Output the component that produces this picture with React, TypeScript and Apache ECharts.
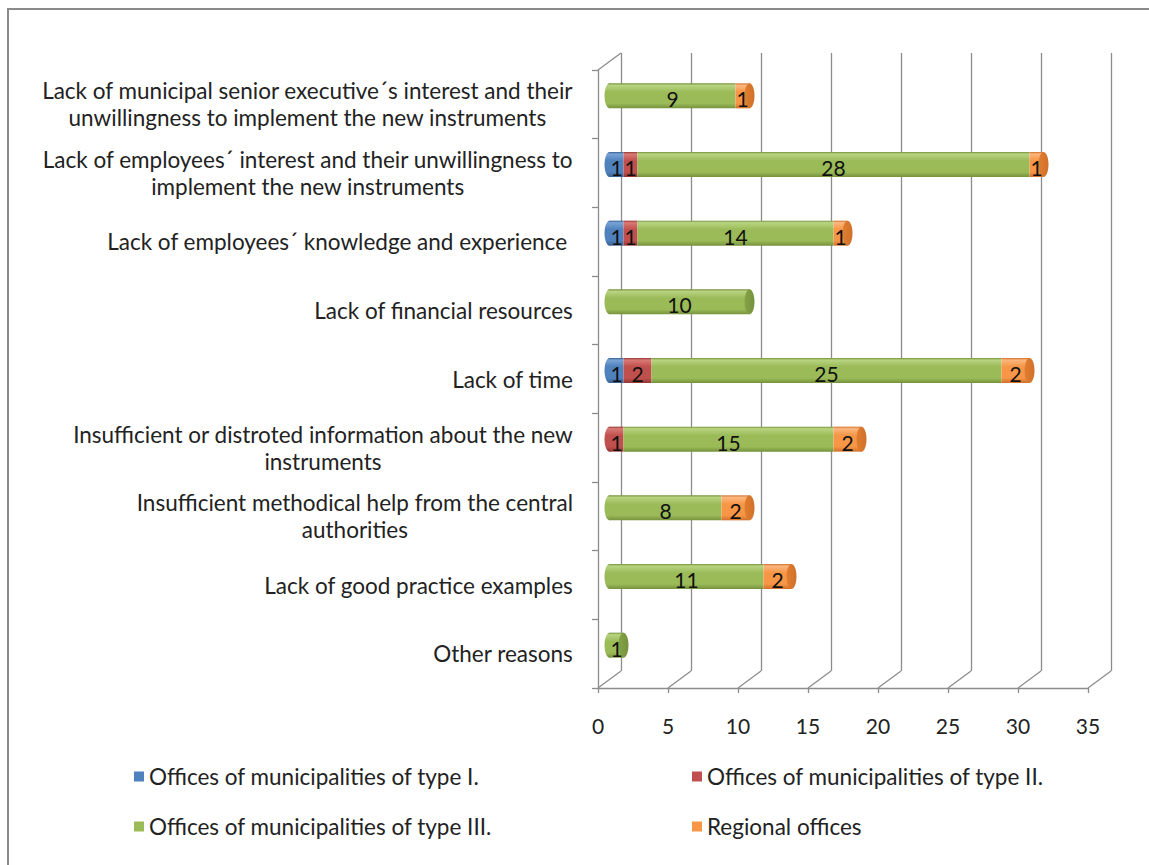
import React, { useEffect, useRef } from "react";
import * as echarts from "echarts";

const categories = [
  "Lack of municipal senior executive´s interest and their\nunwillingness to implement the new instruments",
  "Lack of employees´ interest and their unwillingness to\nimplement the new instruments",
  "Lack of employees´ knowledge and experience ",
  "Lack of financial resources",
  "Lack of time",
  "Insufficient or distroted information about the new\ninstruments",
  "Insufficient methodical help from the central\nauthorities",
  "Lack of good practice examples",
  "Other reasons",
];

const seriesNames = [
  "Offices of municipalities of type I.",
  "Offices of municipalities of type II.",
  "Offices of municipalities of type III.",
  "Regional offices",
];

const type1 = [0, 1, 1, 0, 1, 0, 0, 0, 0];
const type2 = [0, 1, 1, 0, 2, 1, 0, 0, 0];
const type3 = [9, 28, 14, 10, 25, 15, 8, 11, 1];
const regional = [1, 1, 1, 0, 2, 2, 2, 2, 0];

const xTicks = [0, 5, 10, 15, 20, 25, 30, 35];

const palette = [
  { base: "#4F81BD", light: "#7aa3d6", dark: "#365f91", cap: "#3d6ba3" },
  { base: "#C0504D", light: "#d97a77", dark: "#943634", cap: "#a8403d" },
  { base: "#9BBB59", light: "#b8d481", dark: "#76923c", cap: "#84a346" },
  { base: "#F79646", light: "#fbb77f", dark: "#d0702a", cap: "#e17f2f" },
];

const FONT = "Lato";
const FRONT = { left: 598, top: 70, width: 490, height: 618 };
const DX = 23;
const DY = -17;
const BAR_H = 25;
const CAP_RX = 5;
const GRID_COLOR = "#8c8c8c";

export default function App() {
  const ref = useRef<HTMLDivElement>(null);

  useEffect(() => {
    if (!ref.current) return;
    const chart = echarts.init(ref.current, null, { renderer: "svg" });

    const allSeries = [type1, type2, type3, regional];
    const totals = categories.map((_, i) =>
      allSeries.reduce((s, arr) => s + arr[i], 0)
    );
    const starts = allSeries.map((arr, si) =>
      categories.map((_, i) => {
        let s = 0;
        for (let k = 0; k < si; k++) s += allSeries[k][i];
        return s;
      })
    );

    const makeRender = (si: number) => (params: any, api: any) => {
      const value = api.value(0);
      const cat = api.value(1);
      const start = api.value(2);
      const total = api.value(3);
      if (!value) return null;
      const p0 = api.coord([start, cat]);
      const p1 = api.coord([start + value, cat]);
      const c = palette[si];
      const h = BAR_H;
      const y = p0[1] - h / 2;
      const grad = () =>
        new echarts.graphic.LinearGradient(0, 0, 0, 1, [
          { offset: 0, color: c.dark },
          { offset: 0.08, color: c.light },
          { offset: 0.35, color: c.base },
          { offset: 0.8, color: c.base },
          { offset: 1, color: c.dark },
        ]);
      const children: any[] = [];
      if (start === 0) {
        children.push({
          type: "ellipse",
          shape: { cx: p0[0], cy: p0[1], rx: CAP_RX, ry: h / 2 },
          style: { fill: grad() },
        });
      }
      children.push({
        type: "rect",
        shape: { x: p0[0], y, width: p1[0] - p0[0], height: h },
        style: { fill: grad() },
      });
      if (start + value === total) {
        children.push({
          type: "ellipse",
          shape: { cx: p1[0], cy: p1[1], rx: CAP_RX, ry: h / 2 },
          style: {
            fill: new echarts.graphic.LinearGradient(0, 0, 1, 0, [
              { offset: 0, color: c.cap },
              { offset: 1, color: c.dark },
            ]),
          },
        });
      }
      children.push({
        type: "text",
        x: (p0[0] + p1[0]) / 2,
        y: p0[1] + 3,
        style: {
          text: String(value),
          textAlign: "center",
          textVerticalAlign: "middle",
          fontSize: 21,
          fontFamily: FONT,
          fill: "#111",
        },
      });
      return { type: "group", children };
    };

    const barSeries = allSeries.map((arr, si) => ({
      type: "custom",
      name: seriesNames[si],
      xAxisIndex: 1,
      yAxisIndex: 1,
      clip: false,
      itemStyle: { color: palette[si].base },
      renderItem: makeRender(si),
      data: arr.map((v, i) => [v, i, starts[si][i], totals[i]]),
      z: 5 + si,
    }));

    const frameSeries = {
      type: "custom",
      xAxisIndex: 0,
      yAxisIndex: 0,
      clip: false,
      silent: true,
      renderItem: (params: any, api: any) => {
        const v = api.value(0);
        const cs = params.coordSys;
        const px = api.coord([v, 0])[0];
        const bottom = cs.y + cs.height;
        const lineStyle = { stroke: GRID_COLOR, lineWidth: 1.3 };
        const children: any[] = [
          {
            type: "line",
            shape: { x1: px, y1: bottom, x2: px + DX, y2: bottom + DY },
            style: lineStyle,
          },
        ];
        if (v === 0) {
          children.push({
            type: "line",
            shape: { x1: cs.x, y1: cs.y, x2: cs.x + DX, y2: cs.y + DY },
            style: lineStyle,
          });
        }
        return { type: "group", children };
      },
      data: xTicks.map((t) => [t, 0]),
      z: 1,
    };

    const legendPos = [
      { left: 134, top: 765 },
      { left: 692, top: 765 },
      { left: 134, top: 815 },
      { left: 692, top: 815 },
    ];

    const option: any = {
      animation: false,
      backgroundColor: "#ffffff",
      textStyle: { fontFamily: FONT },
      graphic: [
        {
          type: "rect",
          shape: { x: 8, y: 9, width: 1200, height: 900 },
          style: { fill: "none", stroke: "#8a8a8a", lineWidth: 2 },
          silent: true,
          z: -10,
        },
      ],
      legend: seriesNames.map((n, i) => ({
        data: [n],
        left: legendPos[i].left,
        top: legendPos[i].top,
        padding: 0,
        icon: "rect",
        itemWidth: 10,
        itemHeight: 10,
        selectedMode: false,
        textStyle: { fontSize: 22.5, color: "#222", fontFamily: FONT },
      })),
      grid: [
        { ...FRONT },
        { left: FRONT.left + DX / 2, top: FRONT.top + DY / 2, width: FRONT.width, height: FRONT.height },
        { left: FRONT.left + DX, top: FRONT.top + DY, width: FRONT.width, height: FRONT.height },
      ],
      xAxis: [
        {
          gridIndex: 0,
          type: "value",
          min: 0,
          max: 35,
          interval: 5,
          axisLine: { show: true, lineStyle: { color: GRID_COLOR, width: 1.3 } },
          axisTick: { show: true, length: 5, lineStyle: { color: GRID_COLOR, width: 1.3 } },
          axisLabel: { fontSize: 21, color: "#222", margin: 27, fontFamily: FONT },
          splitLine: { show: false },
        },
        { gridIndex: 1, type: "value", min: 0, max: 35, interval: 5, show: false },
        {
          gridIndex: 2,
          type: "value",
          min: 0,
          max: 35,
          interval: 5,
          axisLine: { show: false },
          axisTick: { show: false },
          axisLabel: { show: false },
          splitLine: { show: true, lineStyle: { color: GRID_COLOR, width: 1.3 } },
        },
      ],
      yAxis: [
        {
          gridIndex: 0,
          type: "category",
          inverse: true,
          data: categories,
          axisLine: { show: true, lineStyle: { color: GRID_COLOR, width: 1.3 } },
          axisTick: { show: true, length: 6, lineStyle: { color: GRID_COLOR, width: 1.3 } },
          axisLabel: {
            margin: 25,
            formatter: (v: string) =>
              v
                .split("\n")
                .map((l) => `{a|${l}}`)
                .join("\n"),
            rich: {
              a: {
                align: "center",
                fontSize: 22.5,
                lineHeight: 27,
                color: "#222",
                fontFamily: FONT,
              },
            },
          },
          splitLine: { show: false },
        },
        { gridIndex: 1, type: "category", inverse: true, data: categories, show: false },
        { gridIndex: 2, type: "category", inverse: true, data: categories, show: false },
      ],
      series: [frameSeries, ...barSeries],
    };

    chart.setOption(option);
    return () => chart.dispose();
  }, []);

  return (
    <div
      ref={ref}
      style={{ position: "fixed", left: 0, top: 0, width: 1149, height: 865 }}
    />
  );
}
